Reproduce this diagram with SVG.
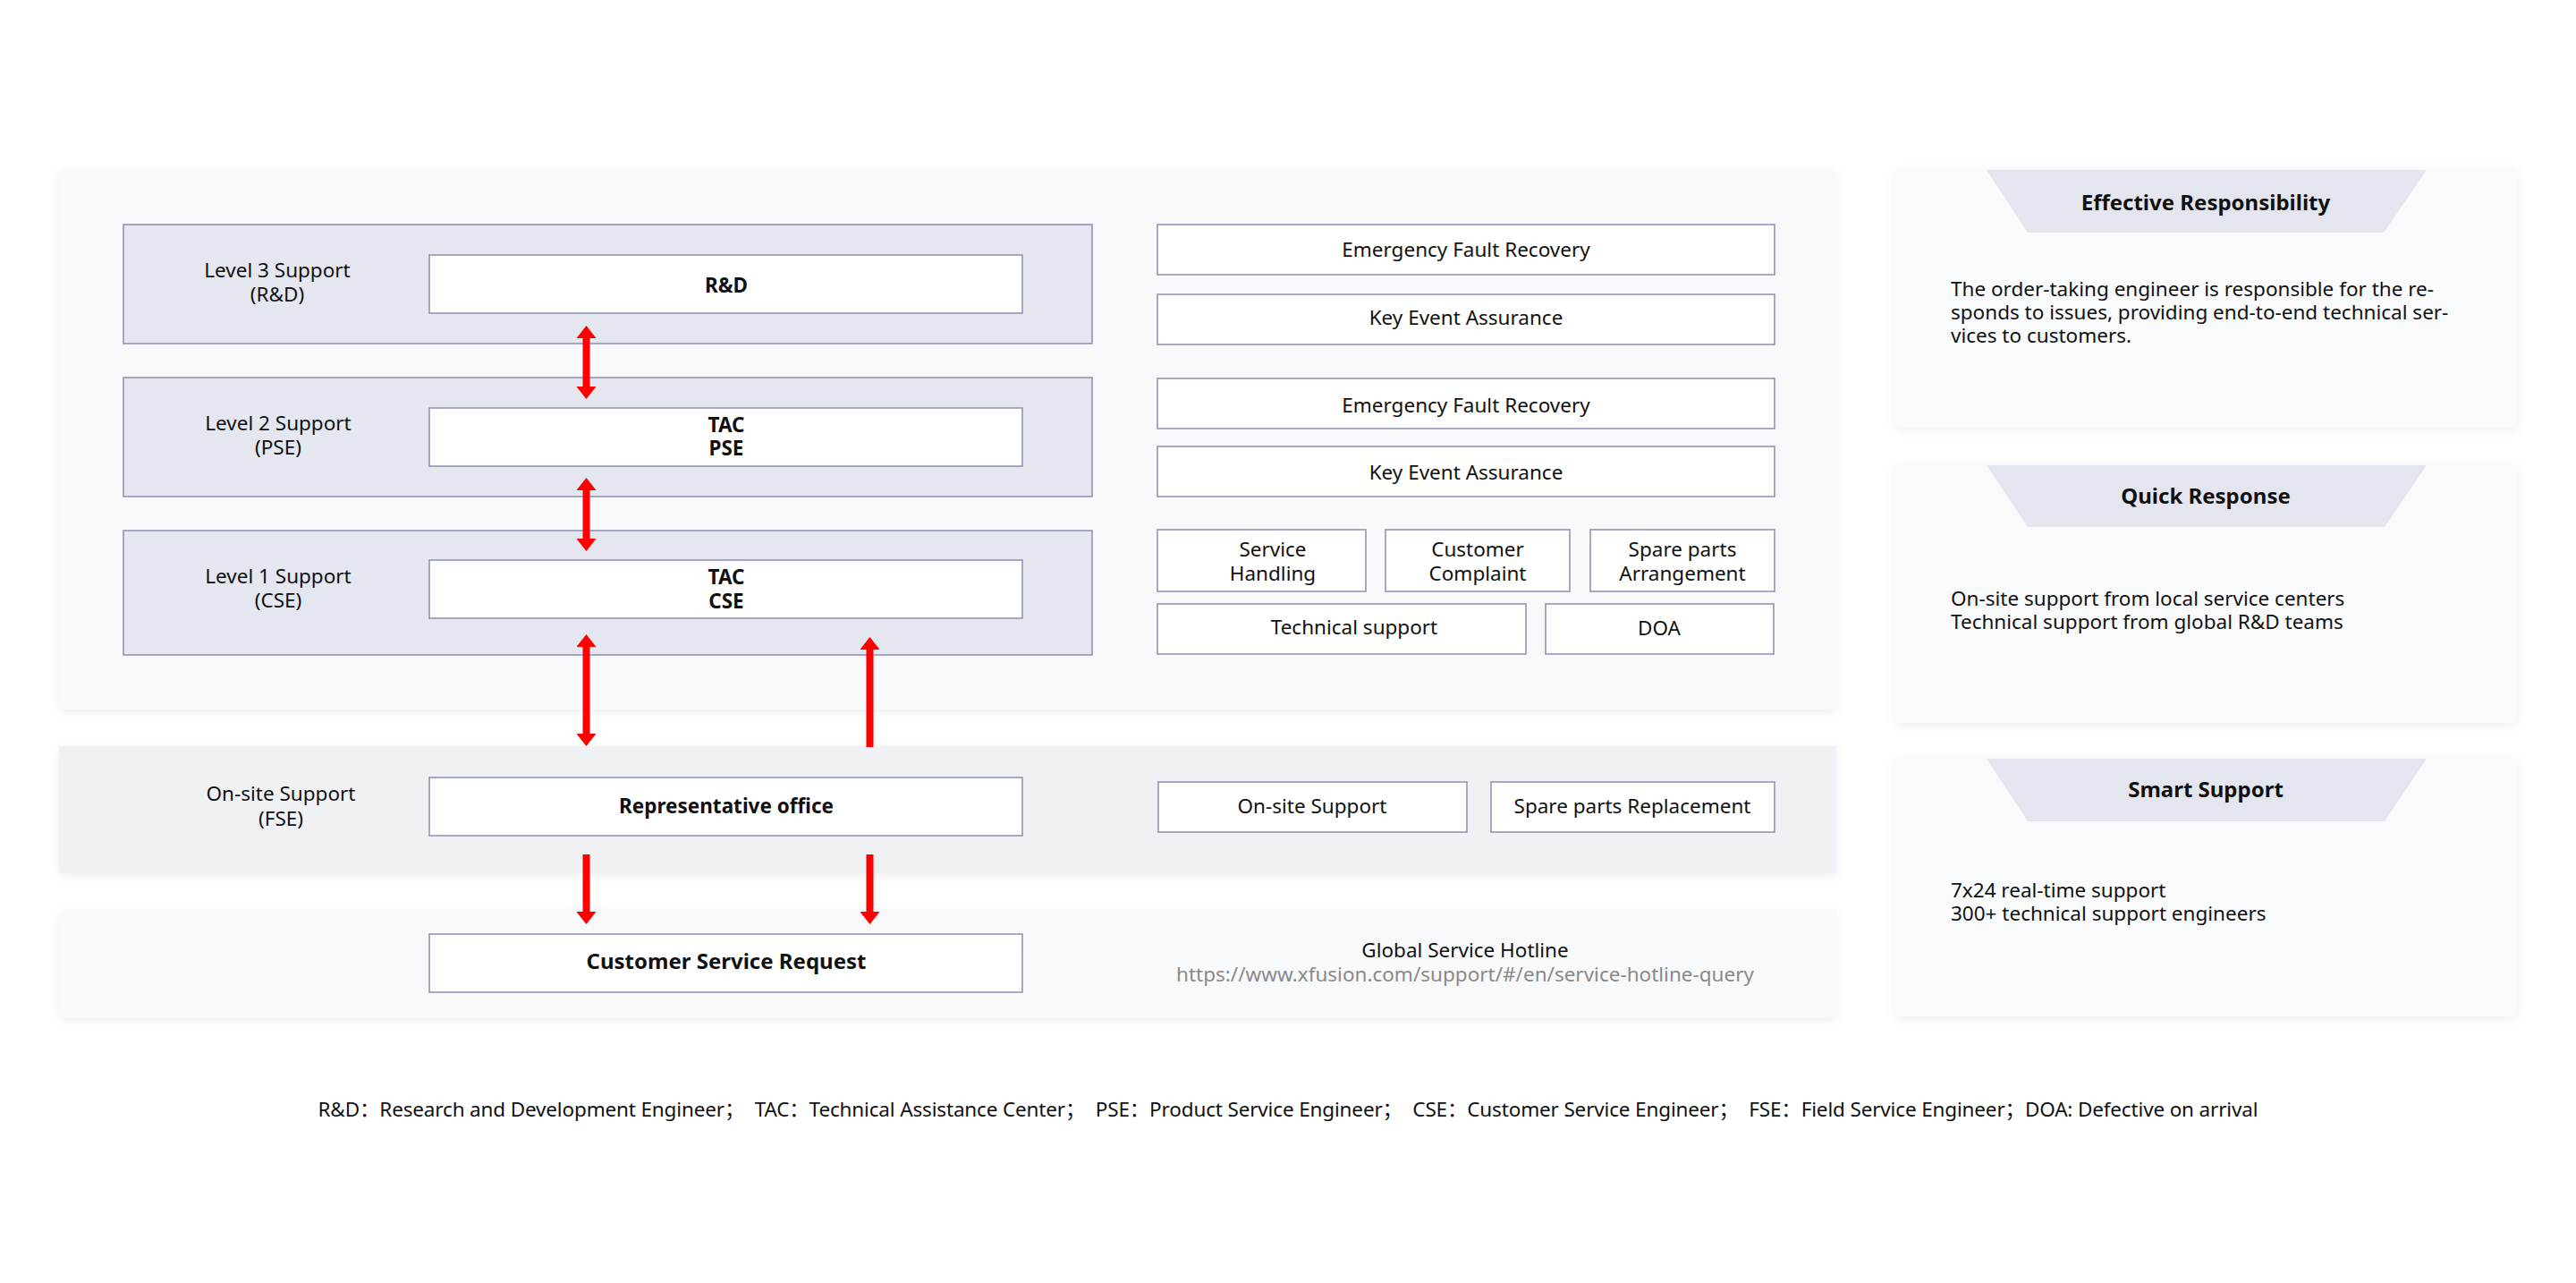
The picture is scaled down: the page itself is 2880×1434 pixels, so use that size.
<svg xmlns="http://www.w3.org/2000/svg" width="2880" height="1434" viewBox="0 0 2880 1434">
<defs>
<style>
text{font-family:'Noto Sans','Open Sans','Noto Sans CJK SC',sans-serif;fill:#111;font-size:22.5px}
.c{text-anchor:middle}
.b{font-weight:bold}
.panel{fill:#F8F9FA}
.panel2{fill:#F0F1F5}
.lvl{fill:#E5E7F0;stroke:#8B8FAE;stroke-width:1.5}
.box{fill:#FFFFFF;stroke:#8B8FAE;stroke-width:1.5}
.card{fill:#F9FAFC}
.trap{fill:#E4E6EF}
.arr{stroke:#FF0000;stroke-width:8;fill:none}
.url{fill:#8A8A8A}
</style>
<filter id="sh" x="-5%" y="-10%" width="110%" height="120%">
<feDropShadow dx="0" dy="2" stdDeviation="6" flood-color="#000" flood-opacity="0.07"/>
</filter>
<marker id="ah" viewBox="0 0 14 22" refX="1" refY="11" markerWidth="14" markerHeight="22" markerUnits="userSpaceOnUse" orient="auto-start-reverse">
<path d="M0,0 L14,11 L0,22 z" fill="#FF0000"/>
</marker>
</defs>
<rect width="2880" height="1434" fill="#FFFFFF"/>

<g id="panel-main"><rect class="panel" x="66" y="191" width="1987" height="602" filter="url(#sh)"/></g>
<g id="panel-onsite"><rect class="panel2" x="66" y="834" width="1987" height="142" filter="url(#sh)"/></g>
<g id="panel-request"><rect class="panel" x="66" y="1018" width="1987" height="120" filter="url(#sh)"/></g>

<g id="level3">
<rect class="lvl" x="138" y="251" width="1083" height="133"/>
<text class="c" x="310" y="310">Level 3 Support</text>
<text class="c" x="310" y="337">(R&amp;D)</text>
</g>
<g id="rd"><rect class="box" x="480" y="285" width="663" height="65"/><text class="c b" x="812" y="327">R&amp;D</text></g>

<g id="level2">
<rect class="lvl" x="138" y="422" width="1083" height="133"/>
<text class="c" x="311" y="481">Level 2 Support</text>
<text class="c" x="311" y="508">(PSE)</text>
</g>
<g id="tac-pse"><rect class="box" x="480" y="456" width="663" height="65"/><text class="c b" x="812" y="483">TAC</text><text class="c b" x="812" y="509">PSE</text></g>

<g id="level1">
<rect class="lvl" x="138" y="593" width="1083" height="139"/>
<text class="c" x="311" y="652">Level 1 Support</text>
<text class="c" x="311" y="679">(CSE)</text>
</g>
<g id="tac-cse"><rect class="box" x="480" y="626" width="663" height="65"/><text class="c b" x="812" y="653">TAC</text><text class="c b" x="812" y="680">CSE</text></g>

<g id="onsite-label">
<text class="c" x="314" y="895">On-site Support</text>
<text class="c" x="314" y="923">(FSE)</text>
</g>
<g id="rep-office"><rect class="box" x="480" y="869" width="663" height="65"/><text class="c b" x="812" y="909">Representative office</text></g>
<g id="customer-request"><rect class="box" x="480" y="1044" width="663" height="65"/><text class="c b" x="812" y="1083" style="font-size:24px">Customer Service Request</text></g>

<g id="efr1"><rect class="box" x="1294" y="251" width="690" height="56"/><text class="c" x="1639" y="287">Emergency Fault Recovery</text></g>
<g id="kea1"><rect class="box" x="1294" y="329" width="690" height="56"/><text class="c" x="1639" y="363">Key Event Assurance</text></g>
<g id="efr2"><rect class="box" x="1294" y="423" width="690" height="56"/><text class="c" x="1639" y="461">Emergency Fault Recovery</text></g>
<g id="kea2"><rect class="box" x="1294" y="499" width="690" height="56"/><text class="c" x="1639" y="536">Key Event Assurance</text></g>
<g id="service-handling"><rect class="box" x="1294" y="592" width="233" height="69"/><text class="c" x="1423" y="622">Service</text><text class="c" x="1423" y="649">Handling</text></g>
<g id="customer-complaint"><rect class="box" x="1549" y="592" width="206" height="69"/><text class="c" x="1652" y="622">Customer</text><text class="c" x="1652" y="649">Complaint</text></g>
<g id="spare-arrangement"><rect class="box" x="1778" y="592" width="206" height="69"/><text class="c" x="1881" y="622">Spare parts</text><text class="c" x="1881" y="649">Arrangement</text></g>
<g id="technical-support"><rect class="box" x="1294" y="675" width="412" height="56"/><text class="c" x="1514" y="709">Technical support</text></g>
<g id="doa"><rect class="box" x="1728" y="675" width="255" height="56"/><text class="c" x="1855" y="710">DOA</text></g>
<g id="onsite-support"><rect class="box" x="1295" y="874" width="345" height="56"/><text class="c" x="1467" y="909">On-site Support</text></g>
<g id="spare-replacement"><rect class="box" x="1667" y="874" width="317" height="56"/><text class="c" x="1825" y="909">Spare parts Replacement</text></g>
<g id="hotline">
<text class="c" x="1638" y="1070">Global Service Hotline</text>
<text class="c url" x="1638" y="1097">https://www.xfusion.com/support/#/en/service-hotline-query</text>
</g>

<g id="card-effective">
<rect class="card" x="2119" y="190" width="695" height="288" filter="url(#sh)"/>
<polygon class="trap" points="2221,190 2713,190 2665,260 2267,260"/>
<text class="c b" x="2466" y="235" style="font-size:24px">Effective Responsibility</text>
<text x="2181" y="331">The order-taking engineer is responsible for the re-</text>
<text x="2181" y="357">sponds to issues, providing end-to-end technical ser-</text>
<text x="2181" y="383">vices to customers.</text>
</g>
<g id="card-quick">
<rect class="card" x="2119" y="520" width="695" height="288" filter="url(#sh)"/>
<polygon class="trap" points="2221,520 2713,520 2666,589 2267,589"/>
<text class="c b" x="2466" y="563" style="font-size:24px">Quick Response</text>
<text x="2181" y="677">On-site support from local service centers</text>
<text x="2181" y="703">Technical support from global R&amp;D teams</text>
</g>
<g id="card-smart">
<rect class="card" x="2119" y="848" width="695" height="288" filter="url(#sh)"/>
<polygon class="trap" points="2221,848 2713,848 2666,918 2267,918"/>
<text class="c b" x="2466" y="891" style="font-size:24px">Smart Support</text>
<text x="2181" y="1003">7x24 real-time support</text>
<text x="2181" y="1029">300+ technical support engineers</text>
</g>

<g id="connectors">
<line class="arr" x1="655.5" y1="377" x2="655.5" y2="433" marker-start="url(#ah)" marker-end="url(#ah)"/>
<line class="arr" x1="655.5" y1="547" x2="655.5" y2="603" marker-start="url(#ah)" marker-end="url(#ah)"/>
<line class="arr" x1="655.5" y1="722" x2="655.5" y2="821" marker-start="url(#ah)" marker-end="url(#ah)"/>
<line class="arr" x1="972.5" y1="725" x2="972.5" y2="835" marker-start="url(#ah)"/>
<line class="arr" x1="655.5" y1="955" x2="655.5" y2="1020" marker-end="url(#ah)"/>
<line class="arr" x1="972.5" y1="955" x2="972.5" y2="1020" marker-end="url(#ah)"/>
</g>

<g id="footer">
<text class="c" x="1440" y="1248" xml:space="preserve" textLength="2169" lengthAdjust="spacing">R&amp;D：Research and Development Engineer；  TAC：Technical Assistance Center；  PSE：Product Service Engineer；  CSE：Customer Service Engineer；  FSE：Field Service Engineer；DOA: Defective on arrival</text>
</g>
</svg>
